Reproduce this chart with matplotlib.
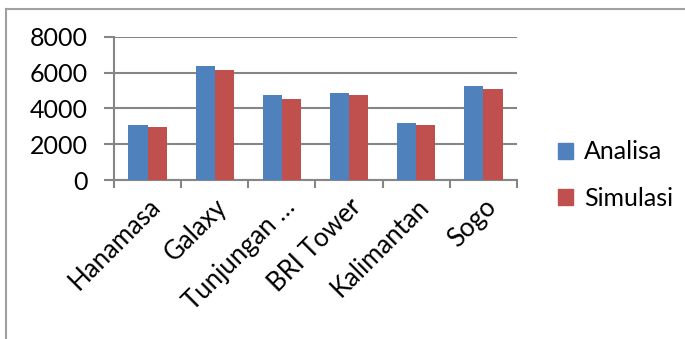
import matplotlib.pyplot as plt
import numpy as np
from matplotlib.lines import Line2D
from matplotlib.patches import Patch

categories = ["Hanamasa", "Galaxy", "Tunjungan …", "BRI Tower", "Kalimantan", "Sogo"]
analisa = [3050, 6380, 4730, 4840, 3160, 5260]
simulasi = [2940, 6160, 4500, 4730, 3050, 5060]
series_names = ["Analisa", "Simulasi"]
yticks = [0, 2000, 4000, 6000, 8000]

BLUE = "#4F81BD"
RED = "#C0504D"
GRID = "#868686"

plt.rcParams["font.family"] = ["Lato", "DejaVu Sans"]

fig = plt.figure(figsize=(6.85, 3.39), dpi=100)
ax = fig.add_axes([0.1664, 0.469, 0.5883, 0.4227])

x = np.arange(len(categories))
w = 1 / 3.5
ax.bar(x - w / 2, analisa, width=w, color=BLUE, zorder=3)
ax.bar(x + w / 2, simulasi, width=w, color=RED, zorder=3)

ax.set_xlim(-0.5, len(categories) - 0.5)
ax.set_ylim(0, 8000)
ax.set_yticks(yticks)
ax.set_yticklabels([str(v) for v in yticks], fontsize=18)
ax.yaxis.grid(True, color=GRID, linewidth=1.5, zorder=0)

ax.set_xticks(x)
ax.set_xticklabels(categories, rotation=45, ha="right", rotation_mode="anchor",
                   fontsize=18.5)
ax.set_xticks(np.arange(-0.5, len(categories)), minor=True)
ax.tick_params(axis="x", which="major", length=0, pad=10)
ax.tick_params(axis="x", which="minor", length=6, width=1.5, color=GRID)
ax.tick_params(axis="y", length=7, width=1.5, color=GRID, pad=12)

for side in ("top", "right"):
    ax.spines[side].set_visible(False)
for side in ("left", "bottom"):
    ax.spines[side].set_color(GRID)
    ax.spines[side].set_linewidth(1.5)

handles = [Patch(color=BLUE), Patch(color=RED)]
fig.legend(handles, series_names, loc="center left", bbox_to_anchor=(0.782, 0.483),
           frameon=False, fontsize=18, handlelength=0.6, handleheight=0.6,
           handletextpad=0.45, labelspacing=0.95)

# outer chart border (cropped on right and bottom)
fig.add_artist(Line2D([0.009, 0.009], [0, 1 - 9 / 339], color="#a0a0a0", linewidth=1.5,
                      transform=fig.transFigure))
fig.add_artist(Line2D([0.009, 1], [1 - 9 / 339, 1 - 9 / 339], color="#a0a0a0",
                      linewidth=1.5, transform=fig.transFigure))

fig.savefig("out.png", dpi=100)
